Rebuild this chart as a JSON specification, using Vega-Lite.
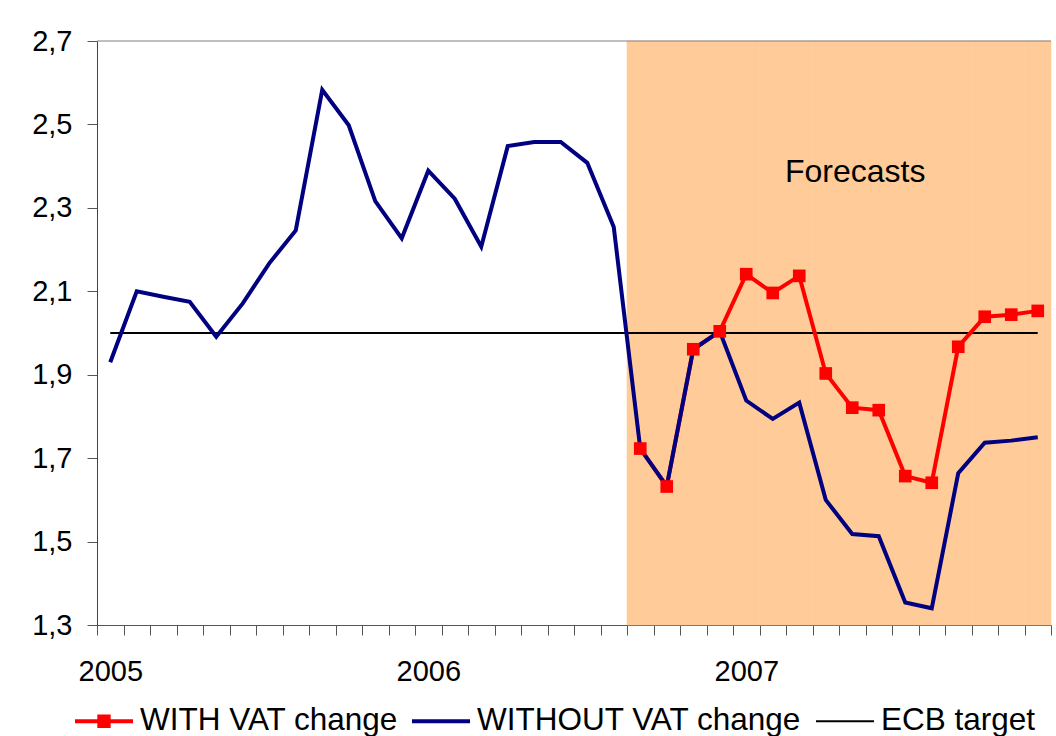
{
  "$schema": "https://vega.github.io/schema/vega-lite/v6.json",
  "autosize": {"type": "none"},
  "width": 954,
  "height": 584,
  "padding": {"left": 97, "top": 41, "right": 5, "bottom": 111},
  "background": "white",
  "config": {
    "font": "Liberation Sans",
    "view": {"stroke": null},
    "axis": {"labelFont": "Liberation Sans", "labelColor": "#000000", "grid": false}
  },
  "datasets": {
    "series": [
      {"month": "2005-01", "series": "WITHOUT VAT change", "value": 1.930},
      {"month": "2005-02", "series": "WITHOUT VAT change", "value": 2.100},
      {"month": "2005-03", "series": "WITHOUT VAT change", "value": 2.087},
      {"month": "2005-04", "series": "WITHOUT VAT change", "value": 2.075},
      {"month": "2005-05", "series": "WITHOUT VAT change", "value": 1.991},
      {"month": "2005-06", "series": "WITHOUT VAT change", "value": 2.071},
      {"month": "2005-07", "series": "WITHOUT VAT change", "value": 2.167},
      {"month": "2005-08", "series": "WITHOUT VAT change", "value": 2.246},
      {"month": "2005-09", "series": "WITHOUT VAT change", "value": 2.583},
      {"month": "2005-10", "series": "WITHOUT VAT change", "value": 2.498},
      {"month": "2005-11", "series": "WITHOUT VAT change", "value": 2.316},
      {"month": "2005-12", "series": "WITHOUT VAT change", "value": 2.227},
      {"month": "2006-01", "series": "WITHOUT VAT change", "value": 2.389},
      {"month": "2006-02", "series": "WITHOUT VAT change", "value": 2.322},
      {"month": "2006-03", "series": "WITHOUT VAT change", "value": 2.207},
      {"month": "2006-04", "series": "WITHOUT VAT change", "value": 2.448},
      {"month": "2006-05", "series": "WITHOUT VAT change", "value": 2.458},
      {"month": "2006-06", "series": "WITHOUT VAT change", "value": 2.458},
      {"month": "2006-07", "series": "WITHOUT VAT change", "value": 2.408},
      {"month": "2006-08", "series": "WITHOUT VAT change", "value": 2.254},
      {"month": "2006-09", "series": "WITHOUT VAT change", "value": 1.723},
      {"month": "2006-10", "series": "WITHOUT VAT change", "value": 1.633},
      {"month": "2006-11", "series": "WITHOUT VAT change", "value": 1.961},
      {"month": "2006-12", "series": "WITHOUT VAT change", "value": 2.004},
      {"month": "2007-01", "series": "WITHOUT VAT change", "value": 1.838},
      {"month": "2007-02", "series": "WITHOUT VAT change", "value": 1.794},
      {"month": "2007-03", "series": "WITHOUT VAT change", "value": 1.833},
      {"month": "2007-04", "series": "WITHOUT VAT change", "value": 1.600},
      {"month": "2007-05", "series": "WITHOUT VAT change", "value": 1.518},
      {"month": "2007-06", "series": "WITHOUT VAT change", "value": 1.513},
      {"month": "2007-07", "series": "WITHOUT VAT change", "value": 1.354},
      {"month": "2007-08", "series": "WITHOUT VAT change", "value": 1.340},
      {"month": "2007-09", "series": "WITHOUT VAT change", "value": 1.664},
      {"month": "2007-10", "series": "WITHOUT VAT change", "value": 1.737},
      {"month": "2007-11", "series": "WITHOUT VAT change", "value": 1.742},
      {"month": "2007-12", "series": "WITHOUT VAT change", "value": 1.750},
      {"month": "2006-09", "series": "WITH VAT change", "value": 1.723},
      {"month": "2006-10", "series": "WITH VAT change", "value": 1.632},
      {"month": "2006-11", "series": "WITH VAT change", "value": 1.961},
      {"month": "2006-12", "series": "WITH VAT change", "value": 2.004},
      {"month": "2007-01", "series": "WITH VAT change", "value": 2.141},
      {"month": "2007-02", "series": "WITH VAT change", "value": 2.096},
      {"month": "2007-03", "series": "WITH VAT change", "value": 2.137},
      {"month": "2007-04", "series": "WITH VAT change", "value": 1.903},
      {"month": "2007-05", "series": "WITH VAT change", "value": 1.821},
      {"month": "2007-06", "series": "WITH VAT change", "value": 1.815},
      {"month": "2007-07", "series": "WITH VAT change", "value": 1.657},
      {"month": "2007-08", "series": "WITH VAT change", "value": 1.641},
      {"month": "2007-09", "series": "WITH VAT change", "value": 1.967},
      {"month": "2007-10", "series": "WITH VAT change", "value": 2.039},
      {"month": "2007-11", "series": "WITH VAT change", "value": 2.044},
      {"month": "2007-12", "series": "WITH VAT change", "value": 2.053},
      {"month": "2005-01", "series": "ECB target", "value": 2.0},
      {"month": "2007-12", "series": "ECB target", "value": 2.0}
    ],
    "forecast": [
      {"month": "2006-09"}, {"month": "2006-10"}, {"month": "2006-11"}, {"month": "2006-12"},
      {"month": "2007-01"}, {"month": "2007-02"}, {"month": "2007-03"}, {"month": "2007-04"},
      {"month": "2007-05"}, {"month": "2007-06"}, {"month": "2007-07"}, {"month": "2007-08"},
      {"month": "2007-09"}, {"month": "2007-10"}, {"month": "2007-11"}, {"month": "2007-12"}
    ],
    "label": [{"month": "2007-05", "text": "Forecasts"}]
  },
  "encoding": {
    "x": {
      "field": "month", "type": "ordinal",
      "scale": {"type": "band", "paddingInner": 0, "paddingOuter": 0},
      "axis": {
        "title": null, "tickBand": "extent", "labelAngle": 0,
        "labelExpr": "substring(datum.value, 5, 7) == '01' ? substring(datum.value, 0, 4) : ''",
        "labelFontSize": 29, "labelPadding": 22, "tickSize": 10,
        "tickColor": "#555555", "domainColor": "#555555", "labelOverlap": false
      }
    }
  },
  "layer": [
    {
      "data": {"name": "forecast"},
      "mark": {"type": "bar", "color": "#FFCC99", "stroke": "#FFCC99", "strokeWidth": 0.6},
      "encoding": {
        "y": {"datum": 2.7, "type": "quantitative",
          "scale": {"domain": [1.3, 2.7], "nice": false, "zero": false},
          "axis": {
            "title": null, "values": [1.3, 1.5, 1.7, 1.9, 2.1, 2.3, 2.5, 2.7],
            "labelExpr": "replace(format(datum.value, '.1f'), '.', ',')",
            "labelFontSize": 29, "labelPadding": 15, "tickSize": 10,
            "tickColor": "#555555", "domainColor": "#444444"
          }
        },
        "y2": {"datum": 1.3}
      }
    },
    {
      "data": {"name": "label"},
      "mark": {"type": "rule", "color": "#808080", "strokeWidth": 1},
      "encoding": {"y": {"datum": 2.7, "type": "quantitative"}, "x": null}
    },
    {
      "data": {"name": "series"},
      "transform": [{"filter": "datum.series == 'ECB target'"}],
      "mark": {"type": "line", "strokeWidth": 2},
      "encoding": {
        "y": {"field": "value", "type": "quantitative"},
        "color": {
          "field": "series", "type": "nominal",
          "scale": {"domain": ["WITH VAT change", "WITHOUT VAT change", "ECB target"], "range": ["#FF0000", "#000080", "#000000"]},
          "legend": {
            "title": null, "orient": "none", "direction": "horizontal",
            "legendX": -22, "legendY": 651, "padding": 0,
            "labelFontSize": 31.5, "labelFont": "Liberation Sans", "labelColor": "#000000",
            "labelLimit": 500,
            "labelOffset": 7, "columnPadding": 14,
            "symbolSize": 3364,
            "symbolType": "M-1,-0.07H1V0.07H-1Z",
            "encode": {
              "symbols": {
                "update": {
                  "shape": {"signal": "datum.value === 'WITH VAT change' ? 'M-1,-0.07H1V0.07H-1Z M-0.23,-0.23H0.23V0.23H-0.23Z' : (datum.value === 'ECB target' ? 'M-1,-0.035H1V0.035H-1Z' : 'M-1,-0.07H1V0.07H-1Z')"},
                  "fill": {"scale": "color", "field": "value"},
                  "fillOpacity": {"value": 1},
                  "strokeWidth": {"value": 0},
                  "opacity": {"value": 1}
                }
              }
            }
          }
        }
      }
    },
    {
      "data": {"name": "series"},
      "transform": [{"filter": "datum.series == 'WITH VAT change'"}],
      "mark": {"type": "line", "strokeWidth": 4},
      "encoding": {
        "y": {"field": "value", "type": "quantitative"},
        "color": {"field": "series", "type": "nominal"}
      }
    },
    {
      "data": {"name": "series"},
      "transform": [{"filter": "datum.series == 'WITHOUT VAT change'"}],
      "mark": {"type": "line", "strokeWidth": 4},
      "encoding": {
        "y": {"field": "value", "type": "quantitative"},
        "color": {"field": "series", "type": "nominal"}
      }
    },
    {
      "data": {"name": "series"},
      "transform": [{"filter": "datum.series == 'WITH VAT change'"}],
      "mark": {"type": "square", "size": 160, "opacity": 1, "filled": true},
      "encoding": {
        "y": {"field": "value", "type": "quantitative"},
        "color": {"field": "series", "type": "nominal"}
      }
    },
    {
      "data": {"name": "label"},
      "mark": {"type": "text", "fontSize": 32, "font": "Liberation Sans", "color": "#000000", "baseline": "alphabetic", "align": "center", "dx": 3},
      "encoding": {
        "y": {"datum": 2.362, "type": "quantitative"},
        "text": {"field": "text"}
      }
    }
  ]
}
